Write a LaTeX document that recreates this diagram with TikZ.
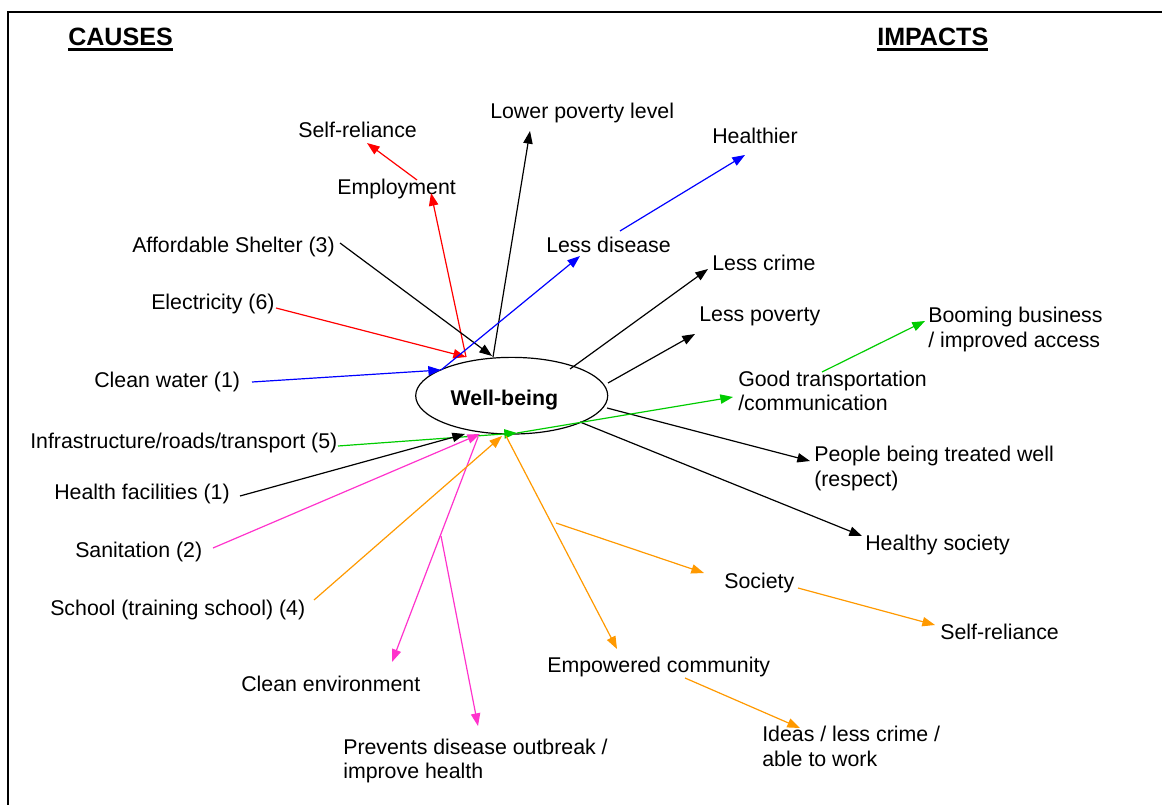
\documentclass[tikz,border=0pt]{standalone}
\usepackage{fontspec}
\setmainfont{Liberation Sans}
\usetikzlibrary{arrows.meta,shapes.geometric}
\definecolor{cRed}{RGB}{255,0,0}
\definecolor{cBlue}{RGB}{0,0,255}
\definecolor{cGreen}{RGB}{0,204,0}
\definecolor{cPink}{RGB}{255,51,204}
\definecolor{cOrange}{RGB}{255,153,0}
\newcommand\ulhead[1]{\setbox0\hbox{#1}\rlap{\rule[-3.75pt]{\wd0}{1.8pt}}\box0}
\begin{document}
\begin{tikzpicture}[x=0.75pt,y=-0.75pt,
  lbl/.style={inner sep=0pt,anchor=base west,font=\fontsize{16}{18.4}\selectfont},
  lbltwo/.style={inner sep=0pt,anchor=north west,align=left,font=\fontsize{16}{18.4}\selectfont},
  head/.style={inner sep=0pt,anchor=base west,font=\fontsize{18.8}{22}\selectfont\bfseries},
  conn/.style={line width=0.9pt,-{Triangle[length=9.5pt,width=7pt]}},
  frame/.style={line width=1.75pt,line join=miter}]
\useasboundingbox (0,0) rectangle (1162,805);
\draw[frame] (8,805) -- (8,12.2) -- (1162,12.2);

% headings
\node[head] (causes) at (68,45.7) {\ulhead{CAUSES}};
\node[head] (impacts) at (877,45.7) {\ulhead{IMPACTS}};

% central ellipse
\node[ellipse,draw,line width=0.9pt,inner sep=0pt,minimum width=144pt,minimum height=57.5pt,
      text height=15pt,text depth=1pt,font=\fontsize{16}{18.4}\selectfont\bfseries]
      (wb) at (511.7,395.7) {Well-being\kern11pt};

% labels
\node[lbl] (selfrelA) at (298,137.3) {Self-reliance};
\node[lbl] (employ) at (337,195) {Employment};
\node[lbl] (lowpov) at (490,119) {Lower poverty level};
\node[lbl] (healthier) at (712,143.5) {Healthier};
\node[lbl] (shelter) at (132,253) {Affordable Shelter (3)};
\node[lbl] (lessdis) at (546,252.7) {Less disease};
\node[lbl] (lesscrime) at (712,270.7) {Less crime};
\node[lbl] (elec) at (151,309.5) {Electricity (6)};
\node[lbl] (lesspov) at (699,321.7) {Less poverty};
\node[lbltwo] (booming) at (928,307) {Booming business\\/ improved access};
\node[lbl] (water) at (94,387.5) {Clean water (1)};
\node[lbltwo] (goodtrans) at (738,370.4) {Good transportation\\/communication};
\node[lbl] (infra) at (30,448.5) {Infrastructure/roads/transport (5)};
\node[lbltwo] (people) at (814,446) {People being treated well\\(respect)};
\node[lbl] (healthfac) at (54,499.5) {Health facilities (1)};
\node[lbl] (healthysoc) at (865,550.7) {Healthy society};
\node[lbl] (sanit) at (75,557.5) {Sanitation (2)};
\node[lbl] (society) at (724,588.5) {Society};
\node[lbl] (school) at (50,615.5) {School (training school) (4)};
\node[lbl] (selfrelB) at (940,639.5) {Self-reliance};
\node[lbl] (empowered) at (547,672.3) {Empowered community};
\node[lbl] (cleanenv) at (241,691) {Clean environment};
\node[lbltwo] (ideas) at (762,726) {Ideas / less crime /\\able to work};
\node[lbltwo] (prevents) at (343,738.4) {Prevents disease outbreak /\\improve health};

% connector end points
\coordinate (rA) at (276,308);
\coordinate (rB) at (466,357);
\coordinate (rC) at (431,193);
\coordinate (rD) at (417,180);
\coordinate (rE) at (367,143);
\coordinate (kA) at (340,243);
\coordinate (kB) at (492,356);
\coordinate (kC) at (493,357);
\coordinate (kD) at (530,131);
\coordinate (bA) at (252,382);
\coordinate (bB) at (441,370);
\coordinate (bC) at (580,256);
\coordinate (bD) at (620,231);
\coordinate (bE) at (745,155);
\coordinate (kE) at (570,369);
\coordinate (kF) at (708,269);
\coordinate (kG) at (608,383);
\coordinate (kH) at (695,334);
\coordinate (kI) at (607,408);
\coordinate (kJ) at (810,461);
\coordinate (kK) at (580,422);
\coordinate (kL) at (862,536);
\coordinate (gA) at (338,446);
\coordinate (gB) at (517,433);
\coordinate (gC) at (733,397);
\coordinate (gD) at (822,372);
\coordinate (gE) at (925,321);
\coordinate (kM) at (240,496);
\coordinate (kN) at (465,434);
\coordinate (pA) at (213,548);
\coordinate (pB) at (480,434);
\coordinate (pC) at (478,437);
\coordinate (pD) at (392,662);
\coordinate (pE) at (441,536);
\coordinate (pF) at (478,726);
\coordinate (oA) at (314,600);
\coordinate (oB) at (502,436);
\coordinate (oC) at (506,436);
\coordinate (oD) at (617,649);
\coordinate (oE) at (556,523);
\coordinate (oF) at (704,573);
\coordinate (oG) at (798,588);
\coordinate (oH) at (935,625);
\coordinate (oI) at (685,678);
\coordinate (oJ) at (800,728);

% red
\draw[conn,cRed] (rA) -- (rB);
\draw[conn,cRed] (rB) -- (rC);
\draw[conn,cRed] (rD) -- (rE);
% black (top)
\draw[conn] (kA) -- (kB);
\draw[conn] (kC) -- (kD);
% blue
\draw[conn,cBlue] (bA) -- (bB);
\draw[conn,cBlue] (bB) -- (bC);
\draw[conn,cBlue] (bD) -- (bE);
% black (right)
\draw[conn] (kE) -- (kF);
\draw[conn] (kG) -- (kH);
\draw[conn] (kI) -- (kJ);
\draw[conn] (kK) -- (kL);
% green
\draw[conn,cGreen] (gA) -- (gB);
\draw[conn,cGreen] (gB) -- (gC);
\draw[conn,cGreen] (gD) -- (gE);
% black (health facilities)
\draw[conn] (kM) -- (kN);
% pink
\draw[conn,cPink] (pA) -- (pB);
\draw[conn,cPink] (pC) -- (pD);
\draw[conn,cPink] (pE) -- (pF);
% orange
\draw[conn,cOrange] (oA) -- (oB);
\draw[conn,cOrange] (oC) -- (oD);
\draw[conn,cOrange] (oE) -- (oF);
\draw[conn,cOrange] (oG) -- (oH);
\draw[conn,cOrange] (oI) -- (oJ);
\end{tikzpicture}
\end{document}
